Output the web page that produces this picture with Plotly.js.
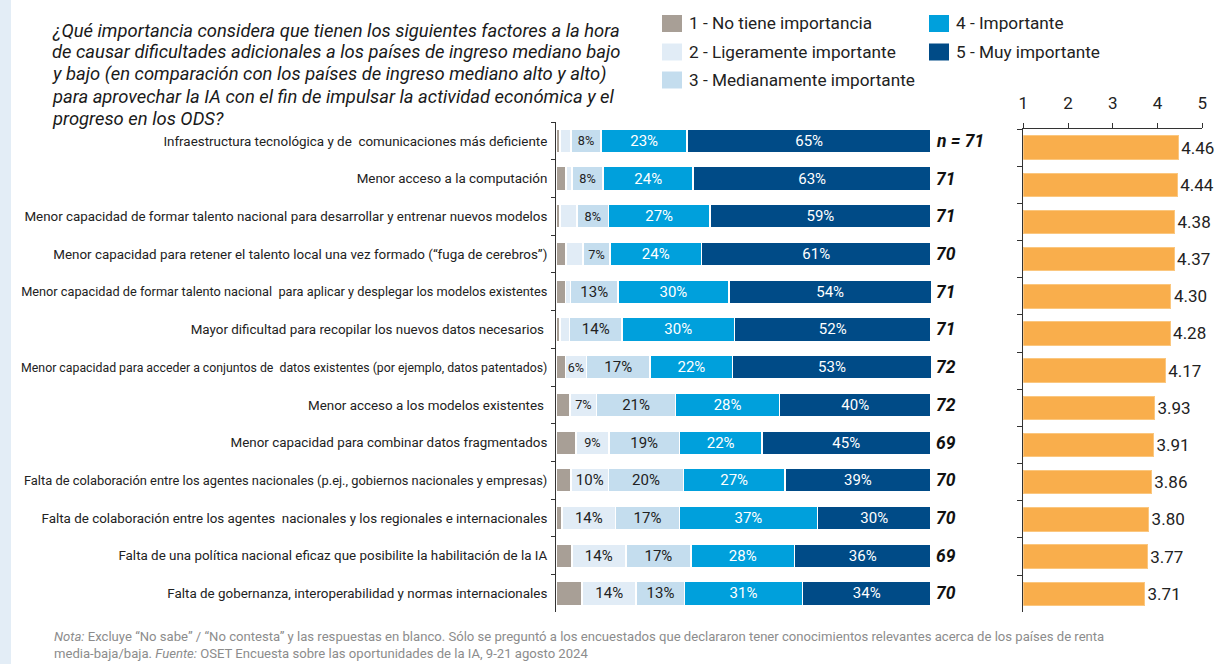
<!DOCTYPE html>
<html>
<head>
<meta charset="utf-8">
<script src="https://cdn.plot.ly/plotly-3.0.1.min.js"></script>
<style>html,body{margin:0;padding:0;background:#fff;}#chart{width:1219px;height:664px;}</style>
</head>
<body>
<div id="chart"></div>
<script>
const categories = [
  "Infraestructura tecnológica y de  comunicaciones más deficiente",
  "Menor acceso a la computación",
  "Menor capacidad de formar talento nacional para desarrollar y entrenar nuevos modelos",
  "Menor capacidad para retener el talento local una vez formado (“fuga de cerebros”)",
  "Menor capacidad de formar talento nacional  para aplicar y desplegar los modelos existentes",
  "Mayor dificultad para recopilar los nuevos datos necesarios ",
  "Menor capacidad para acceder a conjuntos de  datos existentes (por ejemplo, datos patentados)",
  "Menor acceso a los modelos existentes ",
  "Menor capacidad para combinar datos fragmentados",
  "Falta de colaboración entre los agentes nacionales (p.ej., gobiernos nacionales y empresas)",
  "Falta de colaboración entre los agentes  nacionales y los regionales e internacionales",
  "Falta de una política nacional eficaz que posibilite la habilitación de la IA",
  "Falta de gobernanza, interoperabilidad y normas internacionales"
];
const seriesNames = ["1 - No tiene importancia", "2 - Ligeramente importante", "3 - Medianamente importante", "4 - Importante", "5 - Muy importante"];
const s1 = [1, 2.6, 1, 2.6, 2.5, 1, 2.5, 3.8, 5.3, 4, 1.6, 4.2, 7];
const s2 = [3, 1.6, 4.6, 4.6, 1.4, 2.6, 5.6, 7, 8.8, 10, 14.3, 14.4, 14.4];
const s3 = [8, 8.4, 8.4, 7.2, 12.6, 14, 17, 21.1, 18.8, 20, 17, 17.4, 12.9];
const s4 = [23, 24, 27, 24.4, 29.6, 30, 22, 27.7, 22, 27, 36.8, 27.6, 31.4];
const s5 = [65, 63.4, 59, 61.2, 54, 52.4, 53, 40.4, 45, 39, 30.3, 36.4, 34.3];
const nResp = [71, 71, 71, 70, 71, 71, 72, 72, 69, 70, 70, 69, 70];
const meanScore = [4.46, 4.44, 4.38, 4.37, 4.30, 4.28, 4.17, 3.93, 3.91, 3.86, 3.80, 3.77, 3.71];
const meanTicks = [1, 2, 3, 4, 5];
const titleLines = [
  "¿Qué importancia considera que tienen los siguientes factores a la hora",
  "de causar dificultades adicionales a los países de ingreso mediano bajo",
  "y bajo (en comparación con los países de ingreso mediano alto y alto)",
  "para aprovechar la IA con el fin de impulsar la actividad económica y el",
  "progreso en los ODS?"
];

const colors = ["#A89F96", "#E1ECF6", "#C4DDEE", "#00A0DC", "#004B87"];
const textColors = ["#222", "#222", "#222", "#ffffff", "#ffffff"];
const FONT = "Roboto, 'Noto Sans', sans-serif";
const W = 1219, H = 664;
const px = v => v / W, py = v => 1 - v / H;

// category label sizing: base size, condensed when a label is wider than the space
const LABEL_SIZE = 13.4, LABEL_MAX_W = 523;
const ctx = document.createElement("canvas").getContext("2d");
const labelText = categories.map(c => {
  ctx.font = LABEL_SIZE + "px Roboto";
  const w = ctx.measureText(c.replace(/\s+/g, " ").trim()).width;
  const size = w > LABEL_MAX_W ? (LABEL_SIZE * LABEL_MAX_W / w) : LABEL_SIZE;
  return '<span style="font-size:' + size.toFixed(2) + 'px">' + c + '</span>';
});

const series = [s1, s2, s3, s4, s5];
const traces = series.map((vals, i) => ({
  type: "bar", orientation: "h", name: seriesNames[i],
  x: vals, y: categories, xaxis: "x", yaxis: "y",
  marker: { color: colors[i], line: { color: "#ffffff", width: 1.6 } },
  text: vals.map(v => (i > 0 && v >= 5) ? Math.round(v) + "%" : ""),
  textposition: "inside", insidetextanchor: "middle", textangle: 0, constraintext: "none",
  textfont: { family: FONT, color: textColors[i], size: vals.map(v => v < 10 ? 12.7 : 15) },
  hoverinfo: "skip", showlegend: false
}));

traces.push({
  type: "bar", orientation: "h", name: "Promedio",
  base: 1, x: meanScore.map(v => v - 1), y: categories, xaxis: "x2", yaxis: "y2",
  marker: { color: "#F9AE4C", line: { color: "#FBC77F", width: 1 } },
  text: meanScore.map(v => v.toFixed(2)), textposition: "outside", cliponaxis: false,
  textfont: { family: FONT, color: "#222", size: 17 },
  hoverinfo: "skip", showlegend: false
});

const annotations = [];
titleLines.forEach((line, i) => {
  annotations.push({
    xref: "paper", yref: "paper", x: px(50), y: py(30 + i * 22), xanchor: "left", yanchor: "middle",
    showarrow: false, text: "<i>" + line + "</i>",
    font: { family: FONT, size: 18.4, color: "#1a1a1a" }
  });
});
nResp.forEach((n, i) => {
  annotations.push({
    xref: "x", yref: "y", x: 100, y: categories[i], xanchor: "left", yanchor: "middle",
    xshift: 3, showarrow: false,
    text: "<b><i>" + (i === 0 ? "n = " + n : n) + "</i></b>",
    font: { family: FONT, size: 17.5, color: "#111" }
  });
});
// legend (column-major)
const legPos = [[662, 23.5], [662, 52], [662, 80], [929, 23.5], [929, 52]];
const shapes = [{
  type: "rect", xref: "paper", yref: "paper", x0: 0, x1: px(11), y0: 0, y1: 1,
  fillcolor: "#E3EDF6", line: { width: 0 }, layer: "below"
}];
seriesNames.forEach((name, i) => {
  const [lx, ly] = legPos[i];
  shapes.push({
    type: "rect", xref: "paper", yref: "paper",
    x0: px(lx), x1: px(lx + 20), y0: py(ly + 8.5), y1: py(ly - 8.5),
    fillcolor: colors[i], line: { width: 0 }
  });
  annotations.push({
    xref: "paper", yref: "paper", x: px(lx + 25), y: py(ly), xanchor: "left", yanchor: "middle",
    showarrow: false, text: name, font: { family: FONT, size: 17.2, color: "#222" }
  });
});
annotations.push({
  xref: "paper", yref: "paper", x: px(52), y: py(645), xanchor: "left", yanchor: "middle", align: "left",
  showarrow: false,
  text: "<i>Nota:</i> Excluye “No sabe” / “No contesta” y las respuestas en blanco. Sólo se preguntó a los encuestados que declararon tener conocimientos relevantes acerca de los países de renta<br>media-baja/baja. <i>Fuente:</i> OSET Encuesta sobre las oportunidades de la IA, 9-21 agosto 2024",
  font: { family: FONT, size: 13.1, color: "#8c8c8c" }
});

const layout = {
  width: W, height: H, margin: { l: 0, r: 0, t: 0, b: 0 },
  paper_bgcolor: "#ffffff", plot_bgcolor: "rgba(0,0,0,0)",
  barmode: "stack", bargap: 0.37, showlegend: false,
  font: { family: FONT, color: "#222" },
  xaxis: { domain: [px(556), px(931)], range: [0, 100], visible: false, fixedrange: true },
  yaxis: {
    domain: [py(612.3), py(122)], type: "category", autorange: "reversed",
    tickvals: categories, ticktext: labelText,
    tickson: "boundaries", ticks: "outside", ticklen: 4, tickcolor: "#333",
    showline: true, linecolor: "#333", linewidth: 1, showgrid: false, zeroline: false,
    tickfont: { family: FONT, size: LABEL_SIZE, color: "#222" }, automargin: false, ticklabelstandoff: 5
  },
  xaxis2: {
    domain: [px(1023.3), px(1202.3)], range: [1, 5], anchor: "y2", side: "top",
    tickvals: meanTicks, ticktext: meanTicks.map(String),
    ticks: "outside", ticklen: 5, tickcolor: "#333", showline: true, linecolor: "#333", linewidth: 1,
    showgrid: false, zeroline: false, tickfont: { family: FONT, size: 17, color: "#222" },
    automargin: false, ticklabelstandoff: 7
  },
  yaxis2: {
    domain: [py(612.3), py(129)], type: "category", autorange: "reversed", anchor: "x2",
    tickson: "boundaries", ticks: "outside", ticklen: 5, tickcolor: "#333", showticklabels: false,
    showline: true, linecolor: "#333", linewidth: 1, showgrid: false, zeroline: false, automargin: false
  },
  shapes: shapes, annotations: annotations
};

Plotly.newPlot("chart", traces, layout, { displayModeBar: false, staticPlot: true });
</script>
</body>
</html>
